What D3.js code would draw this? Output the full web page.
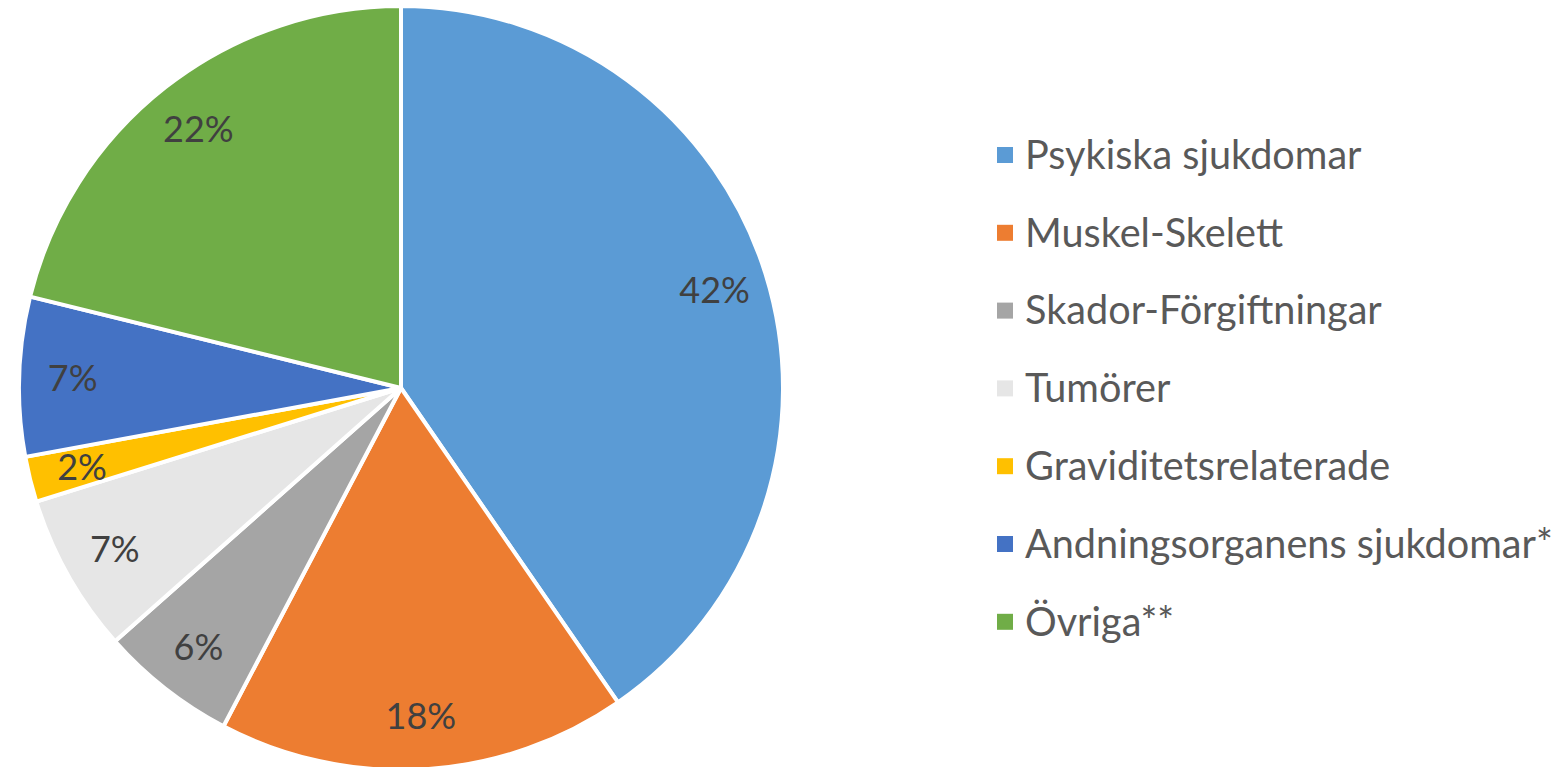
<!DOCTYPE html>
<html>
<head>
<meta charset="utf-8">
<script src="https://cdn.jsdelivr.net/npm/d3@7"></script>
<style>
  body { margin: 0; background: #fff; }
  text { font-family: Lato, "Open Sans", sans-serif; }
</style>
</head>
<body>
<script>
const width = 1561
const height = 767

/* Data */
const categories = ["Psykiska sjukdomar", "Muskel-Skelett", "Skador-Förgiftningar", "Tumörer",
  "Graviditetsrelaterade", "Andningsorganens sjukdomar*", "Övriga**"]
const values = [42, 18, 6, 7, 2, 7, 22]
const labels = ["42%", "18%", "6%", "7%", "2%", "7%", "22%"]
const colors = ["#5B9BD5", "#ED7D31", "#A5A5A5", "#E6E6E6", "#FFC000", "#4472C4", "#70AD47"]

const cx = 401, cy = 388, radius = 382

const svg = d3.select("body")
  .append("svg")
  .attr("width", width)
  .attr("height", height)

const pie = d3.pie().sort(null).value(d => d)
const arcs = pie(values)

const arc = d3.arc().innerRadius(0).outerRadius(radius)
const labelArc = d3.arc().innerRadius(radius * 0.86).outerRadius(radius * 0.86)

const g = svg.append("g").attr("transform", `translate(${cx},${cy})`)

g.selectAll("path")
  .data(arcs)
  .enter()
  .append("path")
  .attr("d", arc)
  .attr("fill", (d, i) => colors[i])
  .attr("stroke", "#fff")
  .attr("stroke-width", 4)
  .attr("stroke-linejoin", "round")

g.selectAll("text.label")
  .data(arcs)
  .enter()
  .append("text")
  .attr("class", "label")
  .attr("transform", d => `translate(${labelArc.centroid(d)})`)
  .attr("text-anchor", "middle")
  .attr("dy", "0.36em")
  .attr("font-size", 36)
  .attr("fill", "#404040")
  .text((d, i) => labels[i])

/* Legend */
const legend = svg.append("g").attr("transform", "translate(997,155)")
const rowStep = 77.8

const item = legend.selectAll("g")
  .data(categories)
  .enter()
  .append("g")
  .attr("transform", (d, i) => `translate(0,${i * rowStep})`)

item.append("rect")
  .attr("x", 0)
  .attr("y", -8)
  .attr("width", 16)
  .attr("height", 16)
  .attr("fill", (d, i) => colors[i])

item.append("text")
  .attr("x", 28)
  .attr("dy", "0.35em")
  .attr("font-size", 30)
  .attr("fill", "#595959")
  .text(d => d)

/* fit legend font so the longest entry spans about 528px */
let longest = 0
item.selectAll("text").each(function () { longest = Math.max(longest, this.getComputedTextLength()) })
const fs = 30 * 528 / longest
item.selectAll("text").attr("font-size", fs)
</script>
</body>
</html>
